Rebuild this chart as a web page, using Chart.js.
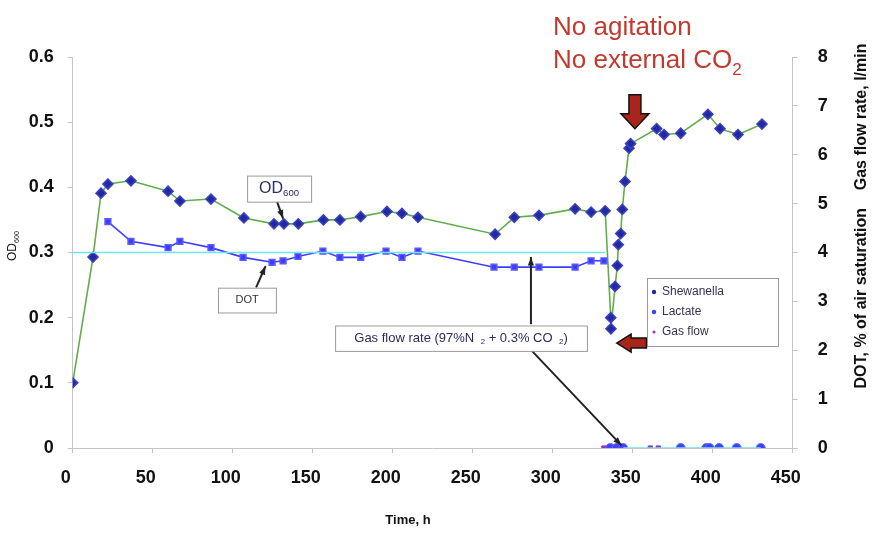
<!DOCTYPE html>
<html>
<head>
<meta charset="utf-8">
<script src="https://cdn.jsdelivr.net/npm/chart.js@4.4.1/dist/chart.umd.min.js"></script>
<style>
  html, body { margin: 0; padding: 0; background: #fff; }
  #wrap { width: 872px; height: 533px; }
</style>
</head>
<body>
<div id="wrap"><canvas id="chart" width="872" height="533"></canvas></div>
<script>
// OD600 of the culture (left axis)
const odTimes = [0, 12.7, 17.7, 22, 36.4, 59.6, 67, 86.4, 107, 125.8, 132, 141, 156.7, 167, 180, 196.4, 205.8, 215.8, 264, 276, 291.4, 314, 324, 332.8, 336.3, 336.4, 339, 340.4, 341, 342.5, 343.5, 345.2, 347.7, 348.7, 365, 369.6, 380, 397, 404.6, 415.8, 430.8];
const odValues = [0.1, 0.293, 0.391, 0.405, 0.41, 0.394, 0.379, 0.382, 0.353, 0.344, 0.344, 0.344, 0.35, 0.35, 0.355, 0.363, 0.36, 0.354, 0.328, 0.354, 0.357, 0.367, 0.362, 0.364, 0.2, 0.183, 0.248, 0.28, 0.312, 0.329, 0.366, 0.409, 0.46, 0.467, 0.49, 0.481, 0.483, 0.512, 0.49, 0.481, 0.497];

// DOT, % of air saturation (right axis)
const dotTimes = [22, 36.4, 59.6, 67, 86.4, 106.5, 124.6, 131.5, 140.8, 156.4, 167, 180, 195.8, 205.8, 215.8, 263.3, 276, 291.4, 314, 324, 332];
const dotValues = [4.63, 4.23, 4.1, 4.23, 4.1, 3.9, 3.8, 3.83, 3.92, 4.03, 3.9, 3.9, 4.03, 3.9, 4.03, 3.7, 3.7, 3.7, 3.7, 3.83, 3.83];

// Gas flow rate, l/min (right axis); null = gap
const gasRateTimes = [0, 333, 338, 344, 430];
const gasRateValues = [4, 4, null, 0, 0];

// points lying on the zero line
const lactateTimes = [336, 340, 344, 380, 396, 398, 404, 415, 430];
const lactateValues = [0, 0, 0, 0, 0, 0, 0, 0, 0];
const gasFlowTimes = [332, 335, 338, 341, 344, 361, 366, 396];
const gasFlowValues = [0, 0, 0, 0, 0, 0, 0, 0];

const xTicks = [0, 50, 100, 150, 200, 250, 300, 350, 400, 450];

const toXY = (xs, ys) => xs.map((x, i) => ({ x: x, y: ys[i] }));

const FONT = "'Liberation Sans', Arial, sans-serif";

// text with subscript parts: parts = [[text, isSub], ...]
function subText(ctx, parts, x, y, size, align) {
  let total = 0;
  parts.forEach(p => {
    ctx.font = (p[1] ? size * 0.6 : size) + "px " + FONT;
    total += ctx.measureText(p[0]).width;
  });
  let cx = align === "center" ? x - total / 2 : x;
  ctx.textAlign = "left";
  parts.forEach(p => {
    const s = p[1] ? size * 0.6 : size;
    ctx.font = s + "px " + FONT;
    ctx.fillText(p[0], cx, p[1] ? y + size * 0.3 : y);
    cx += ctx.measureText(p[0]).width;
  });
}

function arrowLine(ctx, x1, y1, x2, y2) {
  ctx.save();
  ctx.strokeStyle = "#222";
  ctx.fillStyle = "#222";
  ctx.lineWidth = 2;
  ctx.beginPath();
  ctx.moveTo(x1, y1);
  ctx.lineTo(x2, y2);
  ctx.stroke();
  const a = Math.atan2(y2 - y1, x2 - x1);
  ctx.beginPath();
  ctx.moveTo(x2, y2);
  ctx.lineTo(x2 - 9 * Math.cos(a - 0.35), y2 - 9 * Math.sin(a - 0.35));
  ctx.lineTo(x2 - 9 * Math.cos(a + 0.35), y2 - 9 * Math.sin(a + 0.35));
  ctx.closePath();
  ctx.fill();
  ctx.restore();
}

function labelBox(ctx, x1, y1, x2, y2) {
  ctx.save();
  ctx.fillStyle = "#fff";
  ctx.strokeStyle = "#9a9a9a";
  ctx.lineWidth = 1;
  ctx.fillRect(x1, y1, x2 - x1, y2 - y1);
  ctx.strokeRect(x1 + 0.5, y1 + 0.5, x2 - x1, y2 - y1);
  ctx.restore();
}

const annotations = {
  id: "annotations",
  afterDatasetsDraw(chart) {
    const ctx = chart.ctx;
    const x = chart.scales.x, y = chart.scales.y;
    const px = v => x.getPixelForValue(v);
    const py = v => y.getPixelForValue(v);

    // OD600 callout
    arrowLine(ctx, px(127.7), py(0.378), px(131.5), py(0.352));
    labelBox(ctx, px(109), py(0.418), px(149), py(0.378));
    ctx.fillStyle = "#2c2c6c";
    ctx.textBaseline = "middle";
    subText(ctx, [["OD", false], ["600", true]], px(129), py(0.398), 16, "center");

    // DOT callout
    arrowLine(ctx, px(114.6), py(0.246), px(120.5), py(0.279));
    labelBox(ctx, px(90.8), py(0.246), px(127), py(0.208));
    ctx.fillStyle = "#333";
    subText(ctx, [["DOT", false]], px(109), py(0.227), 11, "center");

    // gas flow callout
    arrowLine(ctx, px(286.4), py(0.19), px(286.4), py(0.293));
    arrowLine(ctx, px(287), py(0.149), px(343), py(0.004));
    labelBox(ctx, px(164), py(0.188), px(321.4), py(0.149));
    ctx.fillStyle = "#2a2a5a";
    subText(ctx, [["Gas flow rate (97%N", false], ["   2", true], [" + 0.3% CO", false], ["   2", true], [")", false]],
      px(242.7), py(0.1685), 13, "center");

    // red arrows
    ctx.save();
    ctx.fillStyle = "#a8251a";
    ctx.strokeStyle = "#111";
    ctx.lineWidth = 1.5;
    const cx = px(351.4), top = py(0.542), mid = py(0.513), tip = py(0.49);
    ctx.beginPath();
    ctx.moveTo(cx - 6, top); ctx.lineTo(cx + 6, top); ctx.lineTo(cx + 6, mid);
    ctx.lineTo(cx + 14, mid); ctx.lineTo(cx, tip); ctx.lineTo(cx - 14, mid);
    ctx.lineTo(cx - 6, mid); ctx.closePath();
    ctx.fill(); ctx.stroke();
    const lx = px(340), ly = py(0.161), lm = px(349), le = px(358.6);
    ctx.beginPath();
    ctx.moveTo(lx, ly); ctx.lineTo(lm, ly - 9); ctx.lineTo(lm, ly - 5);
    ctx.lineTo(le, ly - 5); ctx.lineTo(le, ly + 5); ctx.lineTo(lm, ly + 5);
    ctx.lineTo(lm, ly + 9); ctx.closePath();
    ctx.fill(); ctx.stroke();
    ctx.restore();

    // legend
    const ds = chart.data.datasets.filter(d => d.inLegend);
    ctx.save();
    labelBox(ctx, 647, 278, 778, 346);
    ds.forEach((d, i) => {
      const ly2 = 292 + i * 20;
      ctx.fillStyle = d.pointBackgroundColor;
      ctx.beginPath();
      ctx.arc(654, ly2, d.legendDot, 0, Math.PI * 2);
      ctx.fill();
      ctx.fillStyle = "#3a3050";
      ctx.textAlign = "left";
      ctx.textBaseline = "middle";
      ctx.font = "12px " + FONT;
      ctx.fillText(d.label, 662, ly2);
    });
    ctx.restore();
  },
  afterDraw(chart) {
    const ctx = chart.ctx;
    ctx.save();
    // condition note
    ctx.fillStyle = "#c23a2e";
    ctx.textAlign = "left";
    ctx.textBaseline = "alphabetic";
    ctx.font = "26px " + FONT;
    ctx.fillText("No agitation", 553, 35);
    ctx.fillText("No external CO", 553, 68);
    const w = ctx.measureText("No external CO").width;
    ctx.font = "17px " + FONT;
    ctx.fillText("2", 553 + w, 75);

    // axis titles
    ctx.fillStyle = "#111";
    ctx.textAlign = "center";
    ctx.textBaseline = "middle";
    ctx.font = "bold 13px " + FONT;
    ctx.fillText("Time, h", 408, 520);

    ctx.save();
    ctx.translate(862, 216);
    ctx.rotate(-Math.PI / 2);
    ctx.font = "bold 16px " + FONT;
    ctx.fillText("DOT, % of air saturation    Gas flow rate, l/min", 0, 0);
    ctx.restore();

    ctx.save();
    ctx.translate(13, 246);
    ctx.rotate(-Math.PI / 2);
    ctx.textBaseline = "middle";
    subText(ctx, [["OD", false], ["600", true]], 0, 0, 12, "center");
    ctx.restore();
    ctx.restore();
  }
};

const axisColor = "#c4c4c4";
const tickFont = { family: FONT, size: 18, weight: "bold" };

new Chart(document.getElementById("chart"), {
  type: "scatter",
  data: {
    datasets: [
      {
        label: "Gas flow rate",
        data: toXY(gasRateTimes, gasRateValues),
        yAxisID: "y1",
        showLine: true,
        spanGaps: false,
        borderColor: "#6fe6ee",
        borderWidth: 1.6,
        pointRadius: 0
      },
      {
        label: "DOT",
        data: toXY(dotTimes, dotValues),
        yAxisID: "y1",
        showLine: true,
        borderColor: "#3c3cff",
        borderWidth: 1.6,
        pointStyle: "rect",
        pointRadius: 4,
        pointBackgroundColor: "#3c3cff",
        pointBorderColor: "#5a5aff"
      },
      {
        label: "Shewanella",
        inLegend: true,
        legendDot: 2.2,
        data: toXY(odTimes, odValues),
        yAxisID: "y",
        showLine: true,
        borderColor: "#62ad4a",
        borderWidth: 1.6,
        pointStyle: "rectRot",
        pointRadius: 5,
        pointBackgroundColor: "#22289e",
        pointBorderColor: "#3a40c0"
      },
      {
        label: "Lactate",
        inLegend: true,
        legendDot: 2.2,
        data: toXY(lactateTimes, lactateValues),
        yAxisID: "y",
        pointStyle: "circle",
        pointRadius: 4.5,
        pointBackgroundColor: "#3f3fff",
        pointBorderColor: "#6a6aff"
      },
      {
        label: "Gas flow",
        inLegend: true,
        legendDot: 1.5,
        data: toXY(gasFlowTimes, gasFlowValues),
        yAxisID: "y",
        pointStyle: "rect",
        pointRadius: 3,
        pointBackgroundColor: "#9a2fc2",
        pointBorderColor: "#9a2fc2"
      }
    ]
  },
  options: {
    responsive: false,
    animation: false,
    layout: { padding: { top: 57, right: 0, left: 0, bottom: 0 } },
    plugins: {
      legend: { display: false },
      tooltip: { enabled: false }
    },
    scales: {
      x: {
        type: "linear",
        min: 0,
        max: 450,
        afterBuildTicks: s => { s.ticks = xTicks.map(v => ({ value: v })); },
        afterFit: s => { s.height = 85; },
        border: { color: axisColor },
        grid: { drawOnChartArea: false, drawTicks: true, tickLength: 5, color: axisColor },
        ticks: { font: tickFont, color: "#111", padding: 14, labelOffset: -7 }
      },
      y: {
        position: "left",
        min: 0,
        max: 0.6,
        afterFit: s => { s.width = 72.7; },
        border: { color: axisColor },
        grid: { drawOnChartArea: false, drawTicks: true, tickLength: 5, color: axisColor },
        ticks: { stepSize: 0.1, font: tickFont, color: "#111", padding: 14, callback: v => +v.toFixed(1) }
      },
      y1: {
        position: "right",
        min: 0,
        max: 8,
        afterFit: s => { s.width = 79.3; },
        border: { color: axisColor },
        grid: { drawOnChartArea: false, drawTicks: true, tickLength: 5, color: axisColor },
        ticks: { stepSize: 1, font: tickFont, color: "#111", padding: 20 }
      }
    }
  },
  plugins: [annotations]
});
</script>
</body>
</html>
